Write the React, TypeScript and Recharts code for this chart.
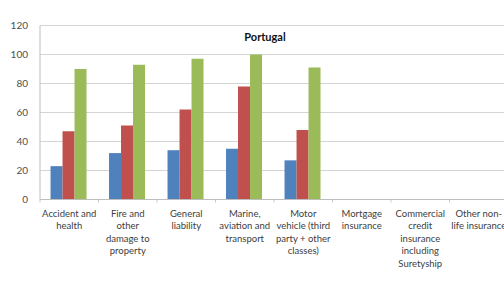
import React from "react";
import { BarChart, Bar, XAxis, YAxis, CartesianGrid } from "recharts";

const categoryLines: string[][] = [
  ["Accident and", "health"],
  ["Fire and", "other", "damage to", "property"],
  ["General", "liability"],
  ["Marine,", "aviation and", "transport"],
  ["Motor", "vehicle (third", "party + other", "classes)"],
  ["Mortgage", "insurance"],
  ["Commercial", "credit", "insurance", "including", "Suretyship"],
  ["Other non-", "life insurance"],
];

const seriesA: (number | null)[] = [23, 32, 34, 35, 27, null, null, null];
const seriesB: (number | null)[] = [47, 51, 62, 78, 48, null, null, null];
const seriesC: (number | null)[] = [90, 93, 97, 100, 91, null, null, null];

const yTicks = [0, 20, 40, 60, 80, 100, 120];

const data = categoryLines.map((lines, i) => ({
  name: lines.join(" "),
  a: seriesA[i],
  b: seriesB[i],
  c: seriesC[i],
}));

const FONT = "Lato, 'Liberation Sans', sans-serif";

function CategoryTick(props: any) {
  const { x, y, payload, index } = props;
  const lines = categoryLines[index] ?? [payload.value];
  const half = payload.offset ?? 29;
  const left = x - half;
  return (
    <g>
      <line x1={left} y1={y - 8} x2={left} y2={y - 5} stroke="#c8c8c8" />
      {index === categoryLines.length - 1 && (
        <line x1={x + half} y1={y - 8} x2={x + half} y2={y - 5} stroke="#c8c8c8" />
      )}
      <text textAnchor="middle" fill="#404040" fontSize={9.5} fontFamily={FONT}>
        {lines.map((l, i) => (
          <tspan key={i} x={x} y={y + 9 + i * 12.6}>
            {l}
          </tspan>
        ))}
      </text>
    </g>
  );
}

export default function App() {
  return (
    <div
      style={{
        position: "fixed",
        left: 0,
        top: 0,
        width: 504,
        height: 281,
        overflow: "hidden",
        background: "#fff",
      }}
    >
      <BarChart
        width={520}
        height={281}
        data={data}
        margin={{ top: 25.5, right: 12, bottom: 0, left: 0 }}
        barGap={0}
        barCategoryGap="18%"
      >
        <CartesianGrid vertical={false} stroke="#d4d4d4" strokeWidth={1.2} />
        <XAxis
          dataKey="name"
          height={81.5}
          interval={0}
          tickLine={false}
          axisLine={{ stroke: "#bdbdbd" }}
          tick={<CategoryTick />}
        />
        <YAxis
          width={40}
          domain={[0, 120]}
          ticks={yTicks}
          interval={0}
          tickLine={false}
          axisLine={{ stroke: "#bdbdbd" }}
          tick={{ fontSize: 10, fill: "#505050", fontFamily: FONT }}
          tickMargin={6}
        />
        <Bar dataKey="a" fill="#4F81BD" isAnimationActive={false} />
        <Bar dataKey="b" fill="#C0504D" isAnimationActive={false} />
        <Bar dataKey="c" fill="#9BBB59" isAnimationActive={false} />
        <text
          x={265}
          y={41}
          textAnchor="middle"
          fontSize={11}
          fontWeight="bold"
          fontFamily={FONT}
          fill="#111"
        >
          Portugal
        </text>
      </BarChart>
    </div>
  );
}
